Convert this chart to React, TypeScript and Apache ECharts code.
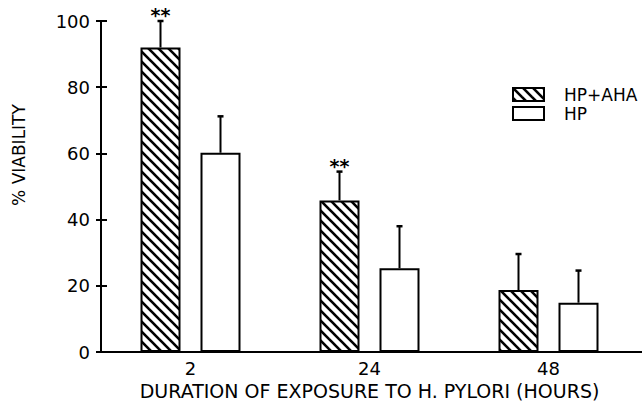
import React, { useEffect, useRef } from "react";
import * as echarts from "echarts";

const categories = ["2", "24", "48"];
const hpAhaValues = [92, 45.8, 18.7];
const hpAhaErrTop = [100, 54.5, 29.6];
const hpValues = [60.2, 25.3, 14.9];
const hpErrTop = [71.2, 38, 24.6];
const hpAhaSig = ["**", "**", ""];
const hpSig = ["", "", ""];
const yTicks = { min: 0, max: 100, interval: 20 };

const FONT = "DejaVu Sans";

function makeHatch(): any {
  const s = 10;
  const c = document.createElement("canvas");
  c.width = s;
  c.height = s;
  const ctx = c.getContext("2d")!;
  ctx.fillStyle = "#fff";
  ctx.fillRect(0, 0, s, s);
  ctx.strokeStyle = "#000";
  ctx.lineWidth = 2.6;
  for (let k = -1; k <= 1; k++) {
    ctx.beginPath();
    ctx.moveTo(k * s - 1, -1);
    ctx.lineTo(k * s + s + 1, s + 1);
    ctx.stroke();
  }
  return { image: c, repeat: "repeat", imageWidth: s, imageHeight: s };
}

export default function App() {
  const ref = useRef<HTMLDivElement>(null);
  useEffect(() => {
    if (!ref.current) return;
    const chart = echarts.init(ref.current, undefined, { renderer: "svg" });
    const hatch = makeHatch();
    const half = 30;
    const errSeries = (name: string, vals: number[], tops: number[], sig: string[], off: number) => ({
      type: "custom",
      name: name + "-err",
      xAxisIndex: 0,
      yAxisIndex: 0,
      z: 5,
      silent: true,
      data: vals.map((v, i) => [i, v, tops[i]]),
      renderItem: (params: any, api: any) => {
        const i = api.value(0);
        const p0 = api.coord([i, api.value(1)]);
        const p1 = api.coord([i, api.value(2)]);
        const x = p0[0] + off;
        const children: any[] = [
          { type: "line", shape: { x1: x, y1: p0[1], x2: x, y2: p1[1] }, style: { stroke: "#000", lineWidth: 2 } },
          { type: "line", shape: { x1: x - 3, y1: p1[1], x2: x + 3, y2: p1[1] }, style: { stroke: "#000", lineWidth: 2.5 } },
        ];
        const s = sig[params.dataIndex];
        if (s) {
          children.push({
            type: "text",
            style: {
              text: s, x, y: p1[1] - 6, align: "center", verticalAlign: "middle",
              font: `bold 19px "${FONT}"`, fill: "#000",
            },
          });
        }
        return { type: "group", children };
      },
    });
    const gridLeft = 101;
    const gridWidth = 537;
    chart.setOption({
      animation: false,
      backgroundColor: "#fff",
      textStyle: { fontFamily: FONT, color: "#000" },
      grid: { left: gridLeft, top: 21, bottom: 50, width: gridWidth, containLabel: false, outerBoundsMode: "none" },
      legend: {
        left: 512, top: 86, orient: "vertical", itemWidth: 31, itemHeight: 13, itemGap: 2,
        padding: 0,
        icon: "rect",
        textStyle: { fontFamily: FONT, fontSize: 17, lineHeight: 17, color: "#000", padding: [0, 0, 0, 15] },
        data: ["HP+AHA", "HP"],
      },
      xAxis: {
        type: "category",
        data: categories,
        axisLine: { lineStyle: { color: "#000", width: 2 } },
        axisTick: { show: false },
        axisLabel: { fontFamily: FONT, fontSize: 18, color: "#000", margin: 7 },
        name: "DURATION OF EXPOSURE TO H. PYLORI (HOURS)",
        nameLocation: "middle",
        nameGap: 29,
        nameTextStyle: { fontFamily: FONT, fontSize: 19, color: "#000" },
      },
      yAxis: [
        {
          type: "value", ...yTicks, position: "left",
          axisLine: { show: true, lineStyle: { color: "#000", width: 2 } },
          axisTick: { show: true, length: 5, lineStyle: { color: "#000", width: 2 } },
          axisLabel: { fontFamily: FONT, fontSize: 18, color: "#000", margin: 11 },
          splitLine: { show: false },
        },
        {
          type: "value", ...yTicks, position: "left",
          axisLine: { show: true, lineStyle: { color: "#000", width: 2 } },
          axisTick: { show: true, inside: true, length: 6, lineStyle: { color: "#000", width: 2 } },
          axisLabel: { show: false },
          splitLine: { show: false },
        },
      ],
      graphic: [
        {
          id: "ytitle",
          type: "text", x: 19, y: 155, rotation: Math.PI / 2,
          style: { text: "% VIABILITY", align: "center", verticalAlign: "middle", font: `17px "${FONT}"`, fill: "#000" },
        },
      ],
      series: [
        {
          type: "bar", name: "HP+AHA", data: hpAhaValues, barWidth: 40, barGap: "50%",
          itemStyle: { color: hatch, borderColor: "#000", borderWidth: 2 },
        },
        {
          type: "bar", name: "HP", data: hpValues, barWidth: 40, barGap: "50%",
          itemStyle: { color: "#fff", borderColor: "#000", borderWidth: 2 },
        },
        errSeries("HP+AHA", hpAhaValues, hpAhaErrTop, hpAhaSig, -half),
        errSeries("HP", hpValues, hpErrTop, hpSig, half),
      ],
    });
    const y0 = chart.convertToPixel({ yAxisIndex: 0 }, 0) as number;
    chart.setOption({
      graphic: [
        {
          id: "xext",
          type: "line", shape: { x1: gridLeft + gridWidth - 1, y1: y0, x2: 642, y2: y0 },
          style: { stroke: "#000", lineWidth: 2 },
        },
      ],
    });
    return () => chart.dispose();
  }, []);
  return <div ref={ref} style={{ width: 642, height: 402, position: "absolute", left: 0, top: 0 }} />;
}
